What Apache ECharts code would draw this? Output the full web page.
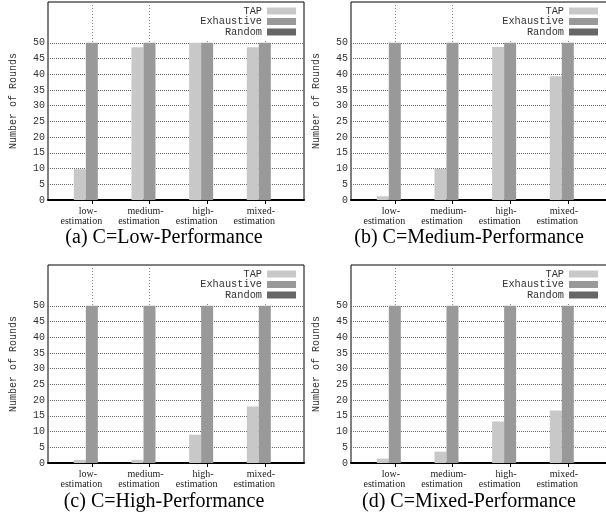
<!DOCTYPE html>
<html><head><meta charset="utf-8">
<script src="https://cdn.jsdelivr.net/npm/echarts@6/dist/echarts.min.js"></script>
<style>html,body{margin:0;padding:0;background:#fff}#c{width:606px;height:518px}</style>
</head><body><div id="c"></div>
<script>
// ---- data ----
const categories = ['low-\nestimation', 'medium-\nestimation', 'high-\nestimation', 'mixed-\nestimation'];
const seriesNames = ['TAP', 'Exhaustive', 'Random'];
const yTicks = [0, 5, 10, 15, 20, 25, 30, 35, 40, 45, 50];
const captions = ['(a) C=Low-Performance', '(b) C=Medium-Performance', '(c) C=High-Performance', '(d) C=Mixed-Performance'];
const tapLow = [9.8, 48.6, 50, 48.6];
const tapMedium = [1.2, 9.9, 48.7, 39.4];
const tapHigh = [1.0, 1.0, 9.0, 18.0];
const tapMixed = [1.4, 3.6, 13.2, 16.7];
const exhaustiveLow = [50, 50, 50, 50];
const exhaustiveMedium = [50, 50, 50, 50];
const exhaustiveHigh = [50, 50, 50, 50];
const exhaustiveMixed = [50, 50, 50, 50];
const randomLow = [0, 0, 0, 0];
const randomMedium = [0, 0, 0, 0];
const randomHigh = [0, 0, 0, 0];
const randomMixed = [0, 0, 0, 0];

const panelData = [
  [tapLow, exhaustiveLow, randomLow],
  [tapMedium, exhaustiveMedium, randomMedium],
  [tapHigh, exhaustiveHigh, randomHigh],
  [tapMixed, exhaustiveMixed, randomMixed]
];
const xPos = categories.map((c, i) => i);

// ---- style / layout ----
const colors = ['#c8c8c8', '#999999', '#666666'];
const mono = '"Liberation Mono", "DejaVu Sans Mono", monospace';
const serif = '"Liberation Serif", "DejaVu Serif", serif';
const layout = [
  {left: 48, top: 2, legRight: 303, legTop: 3, capX: 164, capY: 227.5},
  {left: 351, top: 2, legRight: 1, legTop: 3, capX: 469, capY: 227.5},
  {left: 48, top: 265, legRight: 303, legTop: 266, capX: 164, capY: 491.5},
  {left: 351, top: 265, legRight: 1, legTop: 266, capX: 469, capY: 491.5}
];
const W = 256, H = 198;
const X_MIN = -0.76, X_MAX = 3.68, Y_MAX = 63;

const grid = [], xAxis = [], yAxis = [], series = [], legend = [], title = [];
layout.forEach((p, pi) => {
  grid.push({left: p.left, top: p.top, width: W, height: H, show: true,
    borderColor: '#000', borderWidth: 1, backgroundColor: 'transparent',
    containLabel: false, outerBoundsMode: 'none'});
  // bottom x axis
  xAxis.push({type: 'value', gridIndex: pi, min: X_MIN, max: X_MAX, position: 'bottom',
    axisLine: {show: true, onZero: false, lineStyle: {color: '#000', width: 2}},
    axisTick: {show: false, customValues: xPos},
    axisLabel: {customValues: xPos, margin: 6, padding: [0, 21, 0, 0],
      formatter: v => {
        const parts = categories[Math.round(v)].split('\n');
        return '{a|' + parts[0] + '}\n{b|' + parts[1] + '}';
      },
      rich: {
        a: {fontFamily: serif, fontSize: 10, lineHeight: 10, color: '#222', padding: [0, 0, 0, 13]},
        b: {fontFamily: serif, fontSize: 10, lineHeight: 10, color: '#222'}
      }},
    splitLine: {show: true, lineStyle: {color: '#888', type: [1, 2], width: 1}}
  });
  // top mirror x axis
  xAxis.push({type: 'value', gridIndex: pi, min: X_MIN, max: X_MAX, position: 'top',
    axisLine: {show: false},
    axisTick: {show: true, inside: true, length: 4, customValues: xPos, lineStyle: {color: '#000'}},
    axisLabel: {show: false}, splitLine: {show: false}});
  // left y axis
  yAxis.push({type: 'value', gridIndex: pi, min: 0, max: Y_MAX, position: 'left',
    axisLine: {show: false},
    axisTick: {show: true, inside: true, length: 4, customValues: yTicks, lineStyle: {color: '#000'}},
    axisLabel: {customValues: yTicks, margin: 3, fontFamily: mono, fontSize: 10, color: '#333'},
    splitLine: {show: true, lineStyle: {color: '#666', type: [1, 1], width: 1}},
    name: 'Number of Rounds', nameLocation: 'middle', nameGap: 30,
    nameTextStyle: {fontFamily: mono, fontSize: 10, color: '#333'}
  });
  // right mirror y axis
  yAxis.push({type: 'value', gridIndex: pi, min: 0, max: Y_MAX, position: 'right',
    axisLine: {show: false},
    axisTick: {show: true, inside: true, length: 4, customValues: yTicks, lineStyle: {color: '#000'}},
    axisLabel: {show: false}, splitLine: {show: false}});

  seriesNames.forEach((name, si) => {
    series.push({type: 'bar', name: name, xAxisIndex: pi * 2, yAxisIndex: pi * 2,
      data: xPos.map((x, i) => [x, panelData[pi][si][i]]),
      barWidth: 12, barGap: '0%', itemStyle: {color: colors[si]}, silent: true});
  });

  legend.push({data: seriesNames, orient: 'vertical', align: 'right', right: p.legRight, top: p.legTop,
    padding: [3, 7, 3, 4], itemWidth: 29, itemHeight: 7, itemGap: 0.5, icon: 'rect',
    backgroundColor: '#fff', selectedMode: false,
    textStyle: {fontFamily: mono, fontSize: 10.3, color: '#333', lineHeight: 10}});

  title.push({text: captions[pi], left: p.capX, top: p.capY, textAlign: 'center', padding: 0,
    textStyle: {fontFamily: serif, fontSize: 20, fontWeight: 'normal', color: '#000', lineHeight: 20}});
});

const chart = echarts.init(document.getElementById('c'), null, {renderer: 'canvas'});
chart.setOption({animation: false, backgroundColor: '#fff', grid, xAxis, yAxis, series, legend, title});
</script>
</body></html>
